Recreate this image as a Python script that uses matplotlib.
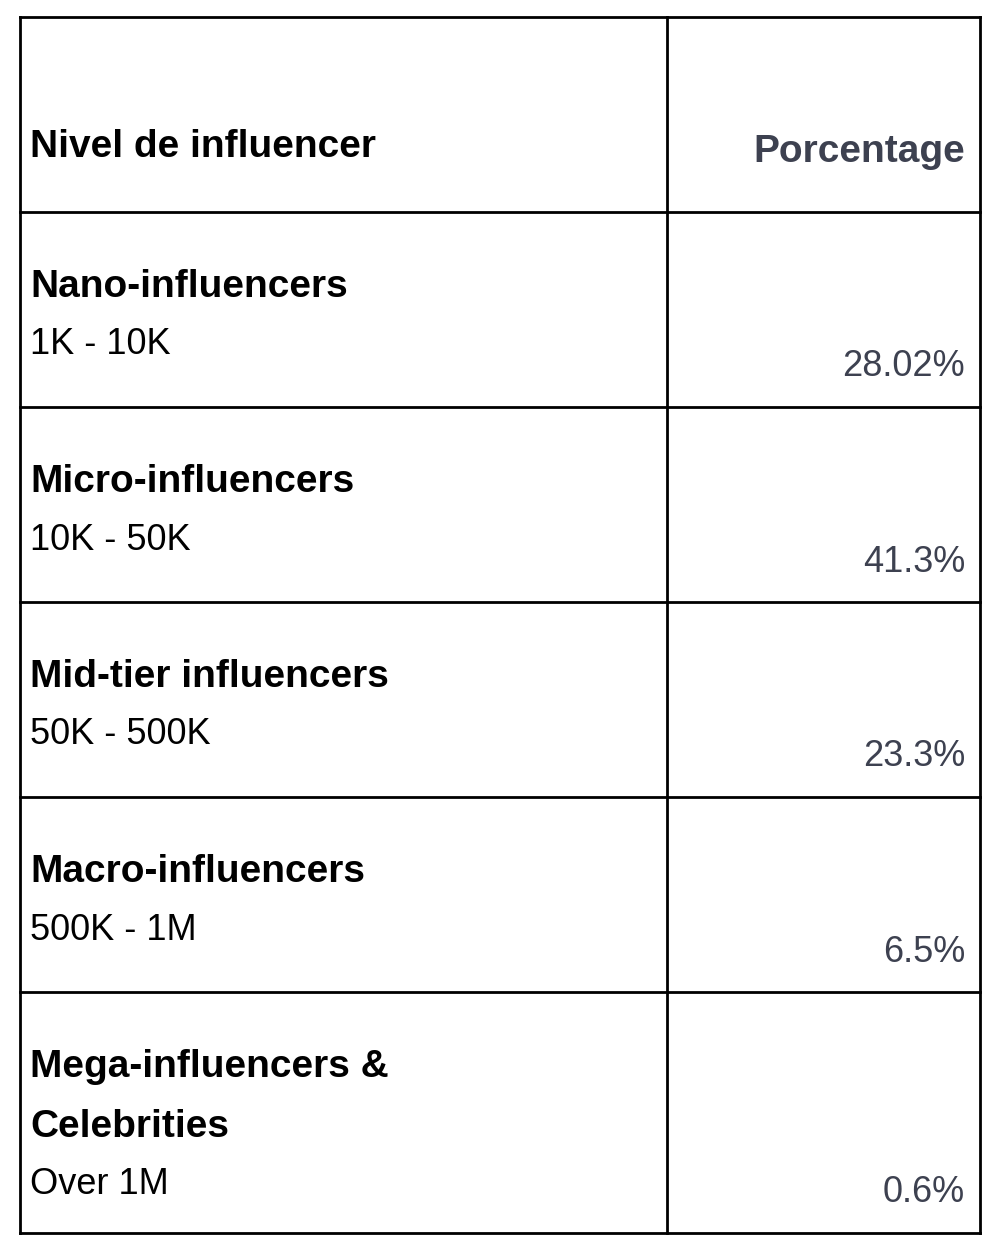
import matplotlib.pyplot as plt

plt.rcParams['font.family'] = ['Liberation Sans', 'DejaVu Sans']

header = ['Nivel de influencer', 'Porcentage']
tiers = ['Nano-influencers', 'Micro-influencers', 'Mid-tier influencers',
         'Macro-influencers', 'Mega-influencers &\nCelebrities']
ranges = ['1K - 10K', '10K - 50K', '50K - 500K', '500K - 1M', 'Over 1M']
shares = ['28.02%', '41.3%', '23.3%', '6.5%', '0.6%']

fig = plt.figure(figsize=(10, 12.53), dpi=100)
ax = fig.add_axes([0, 0, 1, 1])
ax.set_xlim(0, 1000)
ax.set_ylim(1253, 0)
ax.axis('off')

left, mid, right = 20, 667, 980
rows = [17, 212, 407, 602, 797, 992, 1233]

for y in rows:
    ax.plot([left, right], [y, y], color='black', lw=2)
for x in (left, mid, right):
    ax.plot([x, x], [rows[0], rows[-1]], color='black', lw=2)

ax.text(30, 147, header[0], fontsize=28, fontweight='bold', va='center')
ax.text(965, 152, header[1], fontsize=28, fontweight='bold', va='center',
        ha='right', color='#3d4150')

for i, (name, rng, pct) in enumerate(zip(tiers, ranges, shares)):
    top = rows[i + 1]
    bottom = rows[i + 2]
    lines = name.split('\n')
    for j, line in enumerate(lines):
        ax.text(30, top + 75 + 60 * j, line, fontsize=28, fontweight='bold',
                va='center')
    ax.text(30, top + 75 + 60 * len(lines) - 2, rng, fontsize=26,
            va='center')
    ax.text(965, bottom - 40, pct, fontsize=26, va='center', ha='right',
            color='#3d4150')

fig.savefig('out.png', dpi=100, facecolor='white')
